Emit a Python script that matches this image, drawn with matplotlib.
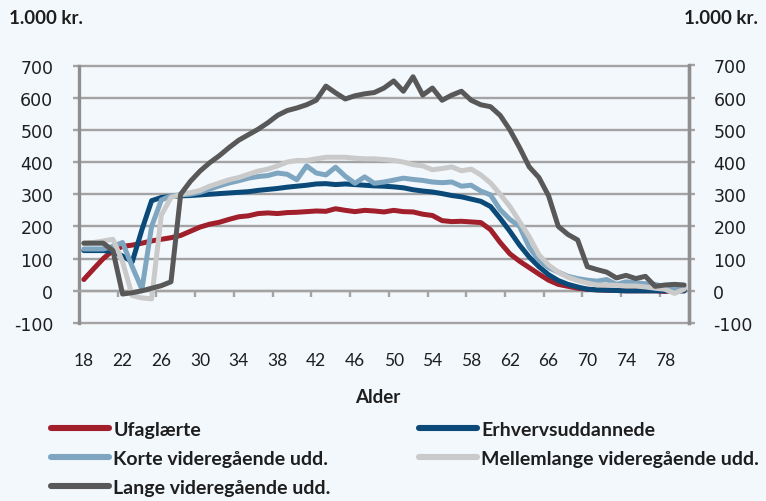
import matplotlib
matplotlib.use("Agg")
import matplotlib.pyplot as plt
from matplotlib.lines import Line2D

# ---------------- data ----------------
ages = list(range(18, 81))
x_tick_labels = [18, 22, 26, 30, 34, 38, 42, 46, 50, 54, 58, 62, 66, 70, 74, 78]
y_ticks = [-100, 0, 100, 200, 300, 400, 500, 600, 700]

ufaglaerte = [35, 68, 100, 125, 138, 142, 148, 155, 160, 165,
              172, 185, 198, 207, 213, 222, 230, 233, 240, 242,
              240, 243, 244, 246, 248, 247, 255, 250, 246, 250,
              248, 245, 250, 246, 245, 238, 234, 218, 215, 216,
              214, 212, 190, 150, 115, 92, 72, 52, 33, 20,
              14, 8, 5, 3, 2, 1, 0, 0, 0, 0,
              -2, 0, 0]
erhverv = [125, 125, 125, 122, 108, 90, 190, 280, 290, 293,
           295, 296, 298, 300, 302, 304, 306, 308, 312, 315,
           318, 322, 325, 328, 332, 333, 330, 332, 330, 328,
           326, 325, 323, 320, 314, 310, 307, 302, 296, 292,
           285, 278, 262, 225, 185, 142, 105, 75, 50, 32,
           20, 12, 5, 3, 2, 1, 0, 0, 0, 0,
           0, 0, 0]
korte = [130, 130, 130, 138, 150, 75, 5, 200, 282, 295,
         298, 300, 306, 316, 326, 335, 342, 350, 355, 358,
         366, 362, 345, 388, 366, 360, 384, 356, 334, 354,
         334, 338, 344, 350, 346, 343, 338, 336, 338, 325,
         328, 310, 298, 252, 222, 200, 135, 95, 72, 58,
         45, 38, 33, 30, 35, 20, 28, 25, 22, 20,
         12, 5, 10]
mellemlange = [148, 150, 155, 160, 90, -15, -22, -25, 235, 290,
               300, 305, 312, 325, 335, 345, 352, 362, 372, 378,
               388, 400, 405, 405, 410, 415, 415, 415, 412, 410,
               410, 408, 405, 400, 392, 388, 376, 380, 385, 373,
               378, 360, 335, 300, 262, 215, 168, 112, 80, 58,
               42, 32, 24, 18, 18, 17, 15, 15, 12, 8,
               5, -8, 5]
lange = [148, 148, 148, 125, -10, -6, 0, 8, 16, 28,
         300, 340, 372, 398, 420, 445, 468, 485, 502, 522,
         545, 560, 568, 578, 592, 636, 615, 596, 606, 612,
         616, 630, 652, 620, 665, 608, 630, 592, 608, 620,
         592, 578, 572, 545, 500, 445, 385, 352, 295, 200,
         175, 158, 75, 66, 58, 40, 48, 38, 45, 14,
         18, 20, 18]

series_names = ["Ufaglærte", "Erhvervsuddannede", "Korte videregående udd.",
                "Mellemlange videregående udd.", "Lange videregående udd."]
series_values = [ufaglaerte, erhverv, korte, mellemlange, lange]
series_colors = ["#a01f2a", "#0b4a78", "#7fa6c1", "#cacaca", "#585858"]

# ---------------- style ----------------
BG = "#f3f8fd"
GRID = "#a3a3a3"
AXC = "#8f8f8f"
TXT = "#1e1e1e"
LATO = ["Lato", "DejaVu Sans"]

fig = plt.figure(figsize=(7.66, 5.02), dpi=100, facecolor=BG)
ax = fig.add_axes([79 / 766, 1 - 324 / 502, (689 - 79) / 766, (324 - 66.5) / 502])
ax.set_facecolor(BG)
ax.set_xlim(17.5, 80.5)
ax.set_ylim(-100, 700)

for i in range(5):
    ax.plot(ages, series_values[i], color=series_colors[i], lw=3.6,
            solid_joinstyle="round", solid_capstyle="round", zorder=3 + i)

# y grid and ticks
ax.set_yticks(y_ticks)
ax.set_yticklabels([str(v) for v in y_ticks])
ax.yaxis.grid(True, color=GRID, lw=1.7)
ax.set_axisbelow(True)
for t in ax.yaxis.get_major_ticks():
    t.gridline.set_clip_on(False)
ax.tick_params(axis="y", which="major", direction="out", length=4.5, width=1.7,
               color=GRID, pad=14, labelsize=12.5, labelcolor=TXT, right=False)

# spines
ax.spines["top"].set_visible(False)
for s in ["left", "right"]:
    ax.spines[s].set_color(AXC)
    ax.spines[s].set_linewidth(2.4)
ax.spines["bottom"].set_position(("data", 0))
ax.spines["bottom"].set_color(GRID)
ax.spines["bottom"].set_linewidth(1.7)

# x ticks: labels on categories, marks between categories
ax.set_xticks(x_tick_labels)
ax.set_xticklabels([str(v) for v in x_tick_labels], family=LATO)
ax.set_xticks([v - 0.5 for v in x_tick_labels[1:]], minor=True)
ax.tick_params(axis="x", which="major", length=0, pad=44, labelsize=12.5, labelcolor=TXT)
ax.tick_params(axis="x", which="minor", direction="out", length=4.5, width=1.7, color=GRID)

# right axis labels
ax2 = ax.twinx()
ax2.set_ylim(-100, 700)
ax2.set_yticks(y_ticks)
ax2.set_yticklabels([str(v) for v in y_ticks])
ax2.tick_params(axis="y", direction="out", length=4.5, width=1.7, color=GRID,
                pad=13, labelsize=12.5, labelcolor=TXT)
for s in ["top", "bottom", "left"]:
    ax2.spines[s].set_visible(False)
ax2.spines["right"].set_color(AXC)
ax2.spines["right"].set_linewidth(2.4)

# unit labels
fig.text(9 / 766, 1 - 18 / 502, "1.000 kr.", fontsize=13.5, fontweight="bold",
         family=LATO, color=TXT, ha="left", va="center")
fig.text(758 / 766, 1 - 18 / 502, "1.000 kr.", fontsize=13.5, fontweight="bold",
         family=LATO, color=TXT, ha="right", va="center")

# x axis title
fig.text(378 / 766, 1 - 398 / 502, "Alder", fontsize=13.5, fontweight="bold",
         family=LATO, color=TXT, ha="center", va="center")

# legend: two columns
def handle(i):
    return Line2D([], [], color=series_colors[i], lw=4.4, solid_capstyle="round")

leg_kw = dict(frameon=False, handlelength=3.0, handletextpad=0.2,
              labelspacing=0.62, borderpad=0, borderaxespad=0,
              prop={"family": LATO, "weight": "bold", "size": 14})
col1 = [0, 2, 4]
col2 = [1, 3]
l1 = fig.legend([handle(i) for i in col1], [series_names[i] for i in col1],
                loc="upper left", bbox_to_anchor=(51 / 766, 1 - 422 / 502), **leg_kw)
l2 = fig.legend([handle(i) for i in col2], [series_names[i] for i in col2],
                loc="upper left", bbox_to_anchor=(419 / 766, 1 - 422 / 502), **leg_kw)
for lg in (l1, l2):
    for t in lg.get_texts():
        t.set_color(TXT)

fig.savefig("out.png", dpi=100, facecolor=BG)
